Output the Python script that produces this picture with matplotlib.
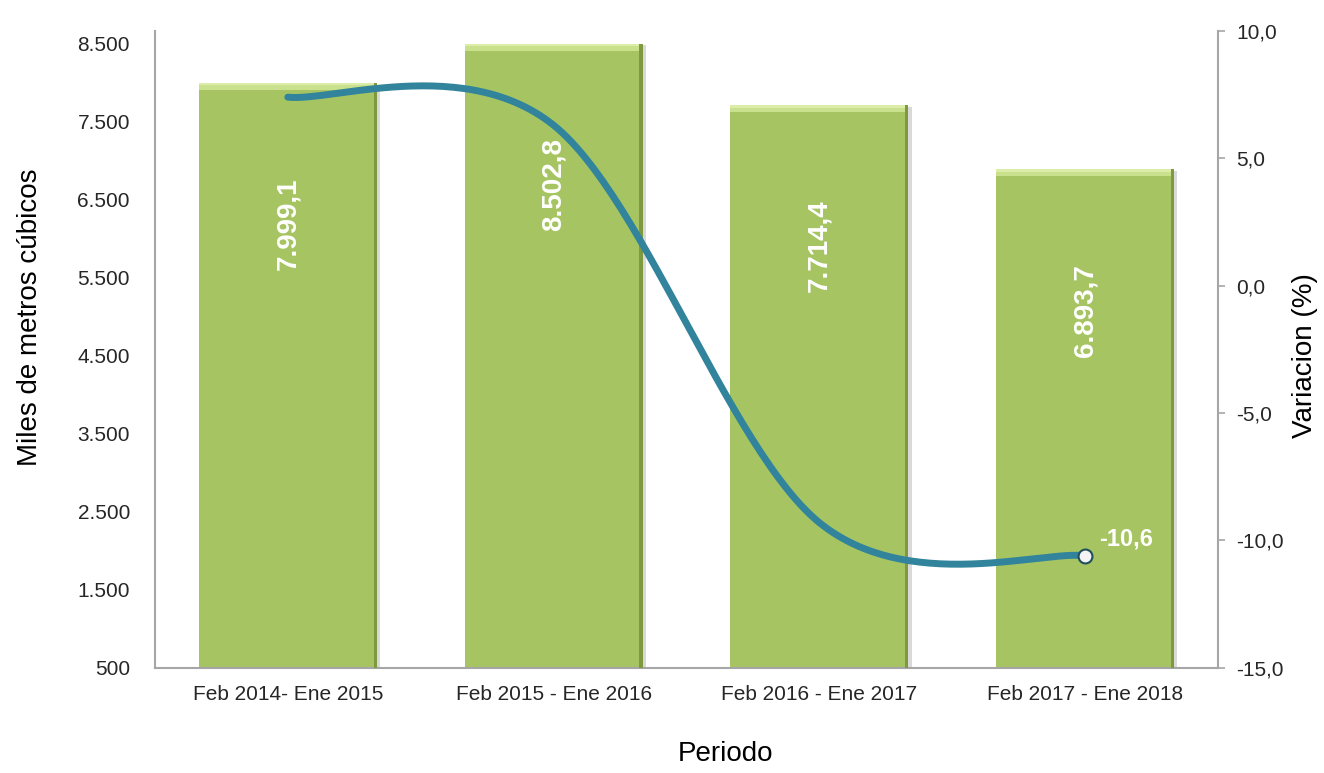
import numpy as np
import matplotlib.pyplot as plt
from matplotlib.ticker import FuncFormatter

plt.rcParams['font.family'] = ['Liberation Sans', 'DejaVu Sans']

# Data
periodos = ['Feb 2014- Ene 2015', 'Feb 2015 - Ene 2016',
            'Feb 2016 - Ene 2017', 'Feb 2017 - Ene 2018']
volumen = [7999.1, 8502.8, 7714.4, 6893.7]   # miles de m3
variacion = [7.4, 6.3, -9.3, -10.6]          # %

bar_color = '#a6c562'
line_color = '#31849b'
grey = '#a6a6a6'
text_color = '#262626'


def es_num(v, dec):
    s = f"{v:,.{dec}f}"
    return s.replace(',', 'X').replace('.', ',').replace('X', '.')


def smooth(xs, ys, n=60):
    # Excel-like smoothed line (Catmull-Rom style bezier)
    pts = np.column_stack([xs, ys]).astype(float)
    out = []
    for i in range(len(pts) - 1):
        p0 = pts[i - 1] if i > 0 else pts[i]
        p1, p2 = pts[i], pts[i + 1]
        p3 = pts[i + 2] if i + 2 < len(pts) else pts[i + 1]
        c1 = p1 + (p2 - p0) / 6
        c2 = p2 - (p3 - p1) / 6
        t = np.linspace(0, 1, n)[:, None]
        seg = ((1 - t) ** 3 * p1 + 3 * (1 - t) ** 2 * t * c1
               + 3 * (1 - t) * t ** 2 * c2 + t ** 3 * p2)
        out.append(seg)
    out = np.vstack(out)
    return out[:, 0], out[:, 1]


fig = plt.figure(figsize=(13.24, 7.73), dpi=100)
ax = fig.add_axes([0.117, 0.136, 0.803, 0.824])
x = np.arange(len(periodos))
w = 0.67
base = 500

# shadow, bar body, bevel highlight and right dark edge
vol = np.array(volumen)
ax.bar(x + 0.012, vol - base, w, bottom=base - 20, color='#d9d9d9', zorder=1)
ax.bar(x, vol - base, w, bottom=base, color=bar_color, zorder=2)
ax.bar(x, 90, w, bottom=vol - 90, color='#c9e08c', zorder=3)
ax.bar(x, 30, w, bottom=vol - 30, color='#dcedaa', zorder=3)
ax.bar(x + w / 2 - 0.006, vol - base, 0.012, bottom=base,
       color='#7f9a3e', zorder=3)

for xi, v in zip(x, volumen):
    ax.annotate(es_num(v, 1), (xi, v), xytext=(0, -68),
                textcoords='offset points', rotation=90, ha='center',
                va='top', color='white', fontsize=20, fontweight='bold',
                zorder=5)

ax.set_xlim(-0.5, 3.5)
ax.set_ylim(500, 8667)
ax.set_yticks(np.arange(500, 8501, 1000))
ax.yaxis.set_major_formatter(FuncFormatter(lambda v, p: es_num(v, 0)))
ax.set_xticks(x)
ax.set_xticklabels(periodos)
ax.tick_params(axis='both', length=0, labelsize=15, colors=text_color)
ax.tick_params(axis='x', pad=12)
ax.tick_params(axis='y', pad=18)
for s in ['top', 'right']:
    ax.spines[s].set_visible(False)
for s in ['left', 'bottom']:
    ax.spines[s].set_color(grey)
    ax.spines[s].set_linewidth(1.5)

# variation line on secondary axis
ax2 = ax.twinx()
ax2.set_ylim(-15, 10)
ax2.set_yticks(np.arange(-15, 10.1, 5))
ax2.yaxis.set_major_formatter(FuncFormatter(lambda v, p: es_num(v, 1)))
ax2.tick_params(axis='y', length=5, width=1.2, color=grey, labelsize=15,
                labelcolor=text_color, pad=8)
for s in ['top', 'left', 'bottom']:
    ax2.spines[s].set_visible(False)
ax2.spines['right'].set_color(grey)
ax2.spines['right'].set_linewidth(1.5)

sx, sy = smooth(x, variacion)
ax2.plot(sx, sy, color=line_color, lw=5, solid_capstyle='round', zorder=4)
ax2.plot(x[-1], variacion[-1], 'o', ms=10, mfc='#f4f4f4', mec='#1f4e5f',
         mew=1.5, zorder=6)
ax2.annotate(es_num(variacion[-1], 1), (x[-1], variacion[-1]),
             xytext=(10, 12), textcoords='offset points', ha='left',
             va='center', color='white', fontsize=17, fontweight='bold',
             zorder=6)

fig.text(0.023, 0.59, 'Miles de metros cúbicos', rotation=90, ha='center',
         va='center', fontsize=20, color='black')
fig.text(0.986, 0.54, 'Variacion (%)', rotation=90, ha='center',
         va='center', fontsize=20, color='black')
fig.text(0.548, 0.024, 'Periodo', ha='center', va='center', fontsize=20,
         color='black')

fig.savefig('out.png', dpi=100)
